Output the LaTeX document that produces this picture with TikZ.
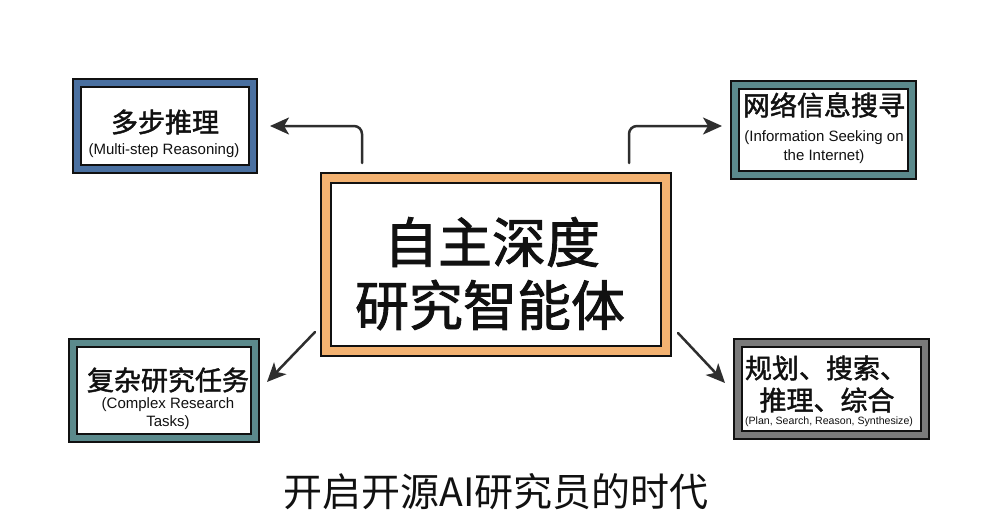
\documentclass[tikz,border=0pt]{standalone}
\usepackage{fontspec}
\setmainfont{Noto Sans CJK SC}
\newfontfamily\cjkmed[FakeBold=1.6]{Noto Sans CJK SC}
\newfontfamily\latinfont{Liberation Sans}
\usetikzlibrary{calc,arrows.meta}
\definecolor{bandblue}{HTML}{4A70A0}
\definecolor{bandteal}{HTML}{5B8A8C}
\definecolor{bandgrey}{HTML}{7A7A7A}
\definecolor{bandorange}{HTML}{F3B271}
\definecolor{arrowgrey}{HTML}{2E2E2E}
\definecolor{inkblack}{HTML}{111111}
\tikzset{
  sketchbox/.style={draw=inkblack, line width=1.8pt, double=#1, double distance=6pt,
    fill=white, inner sep=0pt, outer sep=0pt},
  bigbox/.style={draw=inkblack, line width=2pt, double=#1, double distance=8pt,
    fill=white, inner sep=0pt, outer sep=0pt},
  cjktitle/.style={inner sep=0pt, text=inkblack, font=\cjkmed\fontsize{27}{30}\selectfont},
  subtitle/.style={inner sep=0pt, text=inkblack, font=\latinfont\fontsize{15}{19}\selectfont},
  arr/.style={draw=arrowgrey, line width=2.5pt, line cap=round, rounded corners=8pt,
    -{Stealth[length=19pt, width=17pt, inset=5pt]}},
}
\begin{document}
\begin{tikzpicture}[x=1pt,y=-1pt]
\useasboundingbox[fill=white] (0,0) rectangle (992,532);

% central box
\node[bigbox=bandorange, minimum width=340pt, minimum height=173pt] (c) at (496,264.5) {};
\node[inner sep=0pt, text=inkblack, font=\cjkmed\fontsize{54}{60}\selectfont] (c1) at (492,242) {自主深度};
\node[inner sep=0pt, text=inkblack, font=\cjkmed\fontsize{54}{60}\selectfont] (c2) at (490,305) {研究智能体};

% top-left box
\node[sketchbox=bandblue, minimum width=176pt, minimum height=86pt] (tl) at (165,126) {};
\node[cjktitle] (tlt) at (165,122) {多步推理};
\node[subtitle] (tls) at (164,151) {(Multi-step Reasoning)};

% top-right box
\node[sketchbox=bandteal, minimum width=177pt, minimum height=90pt] (tr) at (823.5,130) {};
\node[cjktitle] (trt) at (824,105) {网络信息搜寻};
\node[subtitle] (trs1) at (824,138) {(Information Seeking on};
\node[subtitle] (trs2) at (824,157) {the Internet)};

% bottom-left box
\node[sketchbox=bandteal, minimum width=182pt, minimum height=95pt] (bl) at (164,390.5) {};
\node[cjktitle] (blt) at (168,380) {复杂研究任务};
\node[subtitle] (bls1) at (168,405) {(Complex Research};
\node[subtitle] (bls2) at (168,423) {Tasks)};

% bottom-right box
\node[sketchbox=bandgrey, minimum width=187pt, minimum height=92pt] (br) at (831.5,389) {};
\node[cjktitle] (brt1) at (826,368) {规划、搜索、};
\node[cjktitle] (brt2) at (827,400) {推理、综合};
\node[inner sep=0pt, text=inkblack, font=\latinfont\fontsize{10.6}{13}\selectfont] (brs) at (829,422) {(Plan, Search, Reason, Synthesize)};

% bottom caption
\node[inner sep=0pt, text=inkblack, font=\fontsize{39}{44}\selectfont] (cap) at (496,492) {开启开源AI研究员的时代};

% connectors
\coordinate (s1) at ($(c.north west)+(36,-15)$);
\coordinate (e1) at ($(tl.east)+(17,0)$);
\draw[arr] (s1) |- (e1);
\coordinate (s2) at ($(c.north east)+(-37,-15)$);
\coordinate (e2) at ($(tr.west)+(-13,-4)$);
\draw[arr] (s2) |- (e2);
\coordinate (s3) at ($(c.south west)+(-11,-19)$);
\coordinate (e3) at ($(bl.north east)+(12,39)$);
\draw[arr, rounded corners=0pt] (s3) -- (e3);
\coordinate (s4) at ($(c.south east)+(12,-18)$);
\coordinate (e4) at ($(br.north west)+(-13,40)$);
\draw[arr, rounded corners=0pt] (s4) -- (e4);
\end{tikzpicture}
\end{document}
